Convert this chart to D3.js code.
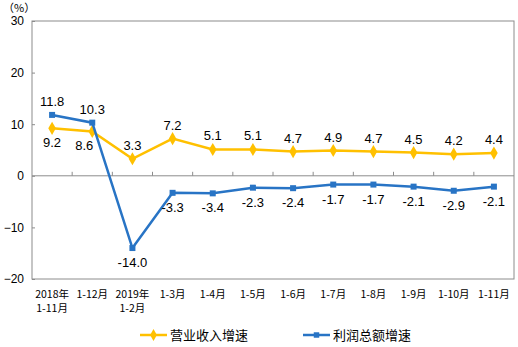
<!DOCTYPE html>
<html><head><meta charset="utf-8">
<script src="https://cdn.jsdelivr.net/npm/d3@7"></script>
<style>body{margin:0;background:#fff;}svg{display:block;}</style>
</head><body>
<svg id="c" width="518" height="347"></svg>
<script>
const categories = [["2018年","1-11月"],["1-12月"],["2019年","1-2月"],["1-3月"],["1-4月"],["1-5月"],["1-6月"],["1-7月"],["1-8月"],["1-9月"],["1-10月"],["1-11月"]];
const revenue = [9.2, 8.6, 3.3, 7.2, 5.1, 5.1, 4.7, 4.9, 4.7, 4.5, 4.2, 4.4];
const profit = [11.8, 10.3, -14.0, -3.3, -3.4, -2.3, -2.4, -1.7, -1.7, -2.1, -2.9, -2.1];
const revenueLabelPos = ["below","below","above","above","above","above","above","above","above","above","above","above"];
const profitLabelPos = ["above","above","below","below","below","below","below","below","below","below","below","below"];
const yTicks = [-20, -10, 0, 10, 20, 30];
const seriesNames = ["营业收入增速", "利润总额增速"];

const svg = d3.select("#c");
const L = 32, R = 514, T = 21, B = 279;
const idx = d3.range(categories.length);
const x = d3.scaleBand().domain(idx).range([L, R]);
const y = d3.scaleLinear().domain([-20, 30]).range([B, T]);
const gray = "#8c8c8c";
const cx = i => x(i) + x.bandwidth() / 2;
const yellow = "#FFC000", blue = "#2874C5";

svg.append("rect").attr("x", L).attr("y", T).attr("width", R - L).attr("height", B - T)
  .attr("fill", "none").attr("stroke", gray).attr("stroke-width", 1);

const yAxis = d3.axisLeft(y).tickValues(yTicks).tickSize(-3).tickPadding(8).tickFormat(d3.format("d"));
const gy = svg.append("g").attr("transform", `translate(${L},0)`).call(yAxis);
gy.select(".domain").remove();
gy.selectAll(".tick line").attr("stroke", gray);
gy.selectAll("text").attr("font-family", "Liberation Sans, Arial, sans-serif").attr("font-size", 12).attr("fill", "#000");

svg.append("line").attr("x1", L).attr("x2", R).attr("y1", y(0)).attr("y2", y(0)).attr("stroke", gray);
svg.selectAll(".xt").data(d3.range(1, categories.length)).enter().append("line")
  .attr("x1", i => x(i)).attr("x2", i => x(i)).attr("y1", y(0)).attr("y2", y(0) - 4).attr("stroke", gray);

const xl = svg.append("g");
idx.forEach(i => {
  const t = xl.append("text").attr("x", cx(i)).attr("y", 298).attr("text-anchor", "middle")
    .attr("font-family", "Noto Sans CJK SC, sans-serif").attr("font-size", 10.5).attr("fill", "#000");
  categories[i].forEach((s, k) => t.append("tspan").attr("x", cx(i)).attr("dy", k === 0 ? 0 : 14).text(s));
});

svg.append("text").attr("x", 3).attr("y", 12).attr("font-family", "Noto Sans CJK SC, sans-serif")
  .attr("font-size", 11).text("（%）");

const line = d3.line().x((d, i) => cx(i)).y(d => y(d));
function drawSeries(vals, color, sym, size, pos, nudge) {
  svg.append("path").datum(vals).attr("d", line).attr("fill", "none").attr("stroke", color).attr("stroke-width", 2.5);
  svg.selectAll(null).data(vals).enter().append("path")
    .attr("d", d3.symbol().type(sym).size(size))
    .attr("transform", (d, i) => `translate(${cx(i)},${y(d)})`)
    .attr("fill", color);
  svg.selectAll(null).data(vals).enter().append("text")
    .attr("x", (d, i) => cx(i) + (nudge[i] || 0)).attr("y", (d, i) => pos[i] === "above" ? y(d) - 9 : y(d) + 19)
    .attr("text-anchor", "middle").attr("font-family", "Liberation Sans, Arial, sans-serif")
    .attr("font-size", 13).attr("fill", "#000").text(d => d.toFixed(1));
}
drawSeries(revenue, yellow, d3.symbolDiamond, 50, revenueLabelPos, {1: -8});
drawSeries(profit, blue, d3.symbolSquare, 36, profitLabelPos, {});

const leg = [[140, yellow, d3.symbolDiamond, 40], [303, blue, d3.symbolSquare, 30]];
leg.forEach((l, k) => {
  const ly = 335;
  svg.append("line").attr("x1", l[0]).attr("x2", l[0] + 27).attr("y1", ly).attr("y2", ly).attr("stroke", l[1]).attr("stroke-width", 2.5);
  svg.append("path").attr("d", d3.symbol().type(l[2]).size(l[3])).attr("transform", `translate(${l[0] + 13.5},${ly})`).attr("fill", l[1]);
  svg.append("text").attr("x", l[0] + 30).attr("y", ly + 5).attr("font-family", "Noto Sans CJK SC, sans-serif")
    .attr("font-size", 13).attr("fill", "#000").text(seriesNames[k]);
});
</script>
</body></html>
